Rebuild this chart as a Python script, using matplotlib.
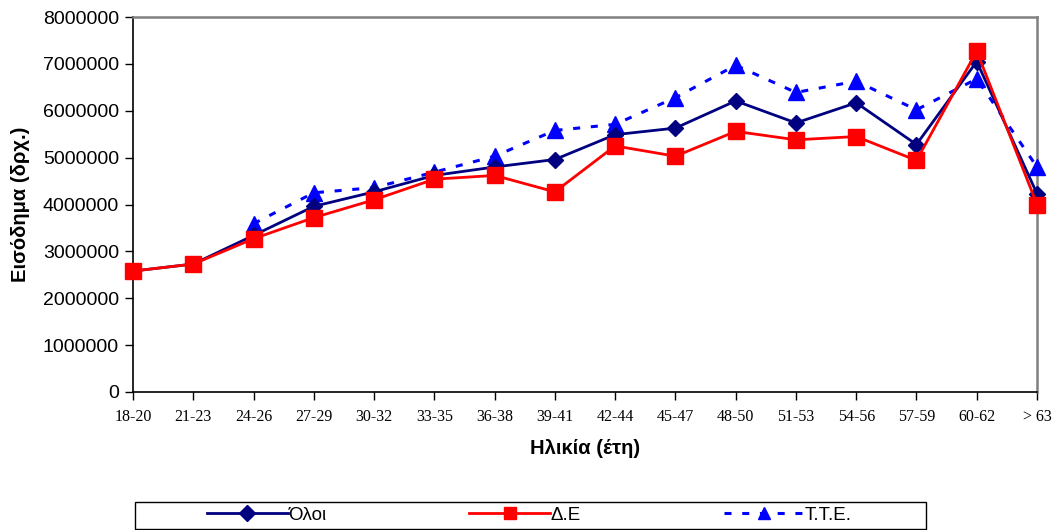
import matplotlib
matplotlib.use("Agg")
import matplotlib.pyplot as plt
from matplotlib.lines import Line2D
from matplotlib.patches import Rectangle

categories = ["18-20", "21-23", "24-26", "27-29", "30-32", "33-35", "36-38", "39-41",
              "42-44", "45-47", "48-50", "51-53", "54-56", "57-59", "60-62", "> 63"]
oloi = [2580000, 2730000, 3340000, 3960000, 4270000, 4620000, 4800000, 4960000,
        5490000, 5630000, 6210000, 5740000, 6170000, 5280000, 7050000, 4230000]
de = [2580000, 2730000, 3270000, 3720000, 4100000, 4540000, 4620000, 4270000,
      5250000, 5030000, 5560000, 5380000, 5450000, 4940000, 7270000, 4000000]
tte = [None, None, 3590000, 4250000, 4360000, 4690000, 5030000, 5580000,
       5710000, 6280000, 6970000, 6390000, 6630000, 6020000, 6680000, 4800000]
series_labels = ["Όλοι", "Δ.Ε", "Τ.Τ.Ε."]
yticks = [0, 1000000, 2000000, 3000000, 4000000, 5000000, 6000000, 7000000, 8000000]

plt.rcParams['font.family'] = ['Liberation Sans', 'DejaVu Sans']

fig = plt.figure(figsize=(10.53, 5.30), dpi=100)
ax = fig.add_axes([133/1053, 1 - 392/530, (1037 - 133)/1053, (392 - 17)/530])

x = list(range(len(categories)))
tte_x = [i for i, v in enumerate(tte) if v is not None]
tte_y = [v for v in tte if v is not None]

dash = (0, (2.3, 3.5))
ax.plot(tte_x, tte_y, color='#0000FF', linestyle=dash, linewidth=2.2,
        marker='^', markersize=11, markerfacecolor='#0000FF', markeredgecolor='#0000FF',
        clip_on=False, zorder=3)
ax.plot(x, oloi, color='#000080', linewidth=2, marker='D', markersize=8,
        markerfacecolor='#000080', markeredgecolor='#000080', clip_on=False, zorder=4)
ax.plot(x, de, color='#FF0000', linewidth=2, marker='s', markersize=11,
        markerfacecolor='#FF0000', markeredgecolor='#FF0000', clip_on=False, zorder=5)

ax.set_xlim(0, len(categories) - 1)
ax.set_ylim(0, 8000000)
ax.set_yticks(yticks)
ax.set_yticklabels([str(v) for v in yticks], fontsize=14)
ax.set_xticks(x)
ax.set_xticklabels(categories, fontsize=11.5, family=['Liberation Serif'])
ax.tick_params(axis='both', direction='out', length=6, width=1, colors='black')
ax.tick_params(axis='x', pad=6)
ax.tick_params(axis='y', pad=4)

for s in ['top', 'right']:
    ax.spines[s].set_color('#808080')
    ax.spines[s].set_linewidth(1.8)
for s in ['left', 'bottom']:
    ax.spines[s].set_color('black')
    ax.spines[s].set_linewidth(1.2)

ax.set_ylabel("Εισόδημα (δρχ.)", fontsize=14.5, fontweight='bold')
ax.yaxis.set_label_coords(-0.114, 0.5)
ax.set_xlabel("Ηλικία (έτη)", fontsize=14.5, fontweight='bold', labelpad=10)

# legend frame
fig.patches.append(Rectangle((135/1053, 1 - 529/530), (926 - 135)/1053, (529 - 502)/530,
                             transform=fig.transFigure, fill=False, edgecolor='black',
                             linewidth=1.0))
h1 = Line2D([], [], color='#000080', linewidth=2, marker='D', markersize=8,
            markerfacecolor='#000080', markeredgecolor='#000080')
h2 = Line2D([], [], color='#FF0000', linewidth=2, marker='s', markersize=9,
            markerfacecolor='#FF0000', markeredgecolor='#FF0000')
h3 = Line2D([], [], color='#0000FF', linewidth=2.2, linestyle=dash, marker='^', markersize=9,
            markerfacecolor='#0000FF', markeredgecolor='#0000FF')
fig.legend([h1, h2, h3], series_labels, loc='center left',
           bbox_to_anchor=(207/1053, 1 - 515/530), ncol=3, fontsize=13.5,
           frameon=False, handlelength=4.3, handletextpad=0.05, columnspacing=7.6,
           borderpad=0, borderaxespad=0)

fig.savefig("out.png", dpi=100)
